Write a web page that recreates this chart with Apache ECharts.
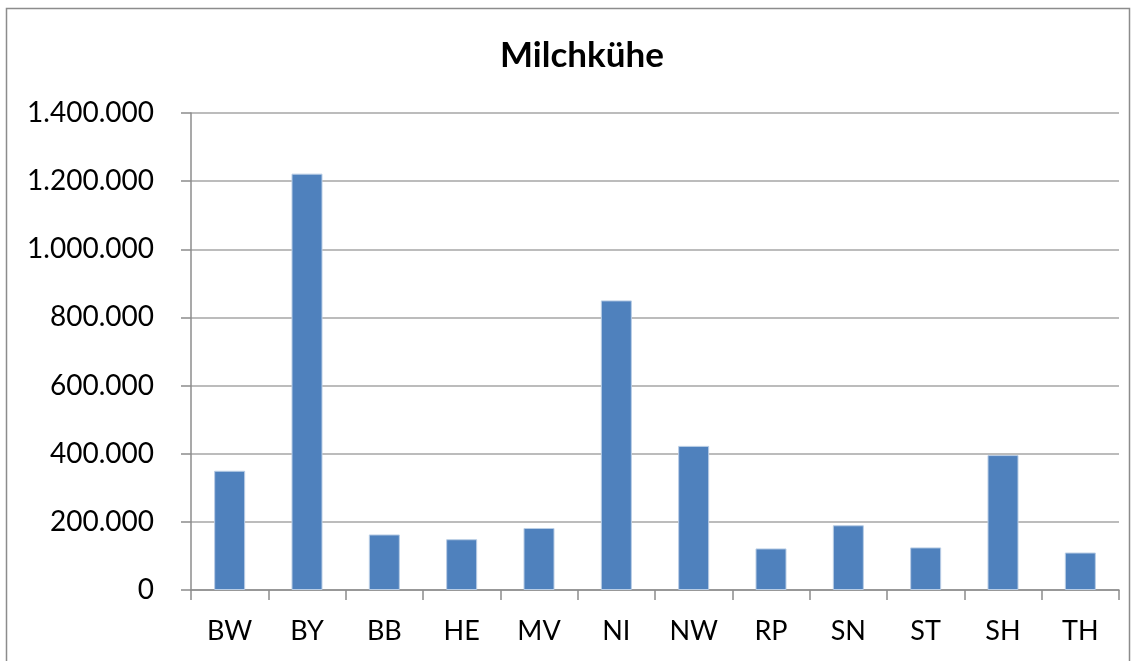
<!DOCTYPE html>
<html>
<head>
<meta charset="utf-8">
<script src="https://cdn.jsdelivr.net/npm/echarts@6/dist/echarts.min.js"></script>
<style>html,body{margin:0;padding:0;background:#fff}#c{width:1135px;height:661px}</style>
</head>
<body>
<div id="c"></div>
<script>
const categories = ['BW','BY','BB','HE','MV','NI','NW','RP','SN','ST','SH','TH'];
const values = [350000,1222000,163000,149000,182000,850000,423000,122000,190000,125000,396000,110000];
const yMin = 0, yMax = 1400000, yStep = 200000;
const titleText = 'Milchkühe';

function de(v){ return String(v).replace(/\B(?=(\d{3})+(?!\d))/g, '.'); }

const chart = echarts.init(document.getElementById('c'), null, {renderer:'canvas'});
chart.setOption({
  animation:false,
  backgroundColor:'#fff',
  title:{text:titleText,left:495,top:33,textStyle:{fontFamily:'Lato',fontWeight:'bold',fontSize:35,color:'#000'}},
  graphic:[{type:'rect',shape:{x:6.5,y:8.5,width:1123,height:700},style:{fill:'none',stroke:'#8c8c8c',lineWidth:1.5},silent:true}],
  grid:{left:191,right:16,top:113,bottom:71},
  xAxis:{type:'category',data:categories,
    axisLine:{lineStyle:{color:'#8c8c8c',width:1.5}},
    axisTick:{show:true,length:10,alignWithLabel:false,lineStyle:{color:'#8c8c8c',width:1.5}},
    axisLabel:{fontFamily:'Lato',fontSize:27,color:'#000',margin:28}},
  yAxis:{type:'value',min:yMin,max:yMax,interval:yStep,
    axisLine:{show:true,lineStyle:{color:'#8c8c8c',width:1.5}},
    axisTick:{show:true,length:10,lineStyle:{color:'#8c8c8c',width:1.5}},
    splitLine:{lineStyle:{color:'#a6a6a6',width:1.5}},
    axisLabel:{fontFamily:'Lato',fontSize:28,color:'#000',margin:37,formatter:de}},
  series:[{type:'bar',data:values,barWidth:31,
    itemStyle:{color:'#4F81BD',borderColor:'#b9cde5',borderWidth:1}}]
});
</script>
</body>
</html>
